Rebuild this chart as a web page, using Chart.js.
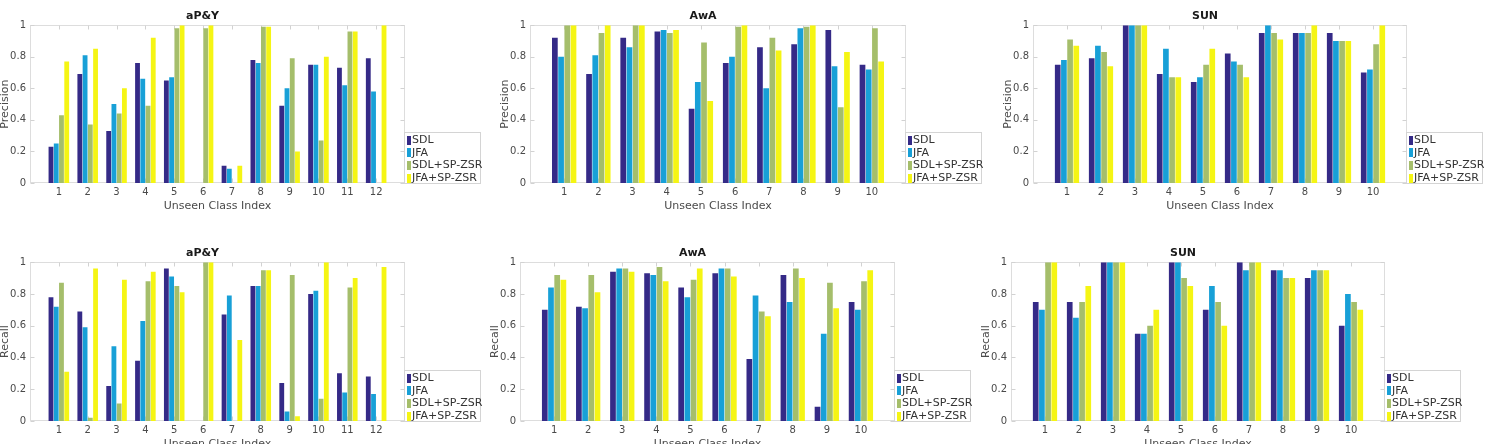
<!DOCTYPE html>
<html><head><meta charset="utf-8">
<script src="https://cdn.jsdelivr.net/npm/chart.js@4.4.1/dist/chart.umd.min.js"></script>
<style>
html,body{margin:0;padding:0;background:#fff;width:1486px;height:444px;overflow:hidden;position:relative;font-family:"DejaVu Sans",sans-serif;}
canvas{position:absolute;}
.lg{position:absolute;border:1px solid #d4d4d4;background:#fff;padding:1px 2px 0 2px;box-sizing:border-box;font-size:11px;color:#333;font-family:"DejaVu Sans",sans-serif;}
.lg .r{height:12.6px;line-height:12.6px;white-space:nowrap;display:flex;align-items:center;}
.lg .s{display:inline-block;width:4px;height:9px;margin-right:1px;flex:none;}
</style></head><body>
<canvas id="c1" width="406" height="222" style="left:0px;top:0px"></canvas>
<canvas id="c2" width="407" height="222" style="left:500px;top:0px"></canvas>
<canvas id="c3" width="405" height="222" style="left:1003px;top:0px"></canvas>
<canvas id="c4" width="406" height="223" style="left:0px;top:237px"></canvas>
<canvas id="c5" width="406" height="223" style="left:490px;top:237px"></canvas>
<canvas id="c6" width="405" height="223" style="left:981px;top:237px"></canvas>
<script>
// ---------- data ----------
const seriesNames = ['SDL', 'JFA', 'SDL+SP-ZSR', 'JFA+SP-ZSR'];
const classes12 = [1, 2, 3, 4, 5, 6, 7, 8, 9, 10, 11, 12];
const classes10 = [1, 2, 3, 4, 5, 6, 7, 8, 9, 10];
const yTickValues = [0, 0.2, 0.4, 0.6, 0.8, 1];
const yTickLabels = ['0', '0.2', '0.4', '0.6', '0.8', '1'];
const xAxisTitle = 'Unseen Class Index';

// aP&Y precision
const apyPrecSDL   = [0.23, 0.69, 0.33, 0.76, 0.65, 0, 0.11, 0.78, 0.49, 0.75, 0.73, 0.79];
const apyPrecJFA   = [0.25, 0.81, 0.50, 0.66, 0.67, 0, 0.09, 0.76, 0.60, 0.75, 0.62, 0.58];
const apyPrecSDLSP = [0.43, 0.37, 0.44, 0.49, 0.98, 0.98, 0, 0.99, 0.79, 0.27, 0.96, 0];
const apyPrecJFASP = [0.77, 0.85, 0.60, 0.92, 1.00, 1.00, 0.11, 0.99, 0.20, 0.80, 0.96, 1.00];
// AwA precision
const awaPrecSDL   = [0.92, 0.69, 0.92, 0.96, 0.47, 0.76, 0.86, 0.88, 0.97, 0.75];
const awaPrecJFA   = [0.80, 0.81, 0.86, 0.97, 0.64, 0.80, 0.60, 0.98, 0.74, 0.72];
const awaPrecSDLSP = [1.00, 0.95, 1.00, 0.95, 0.89, 0.99, 0.92, 0.99, 0.48, 0.98];
const awaPrecJFASP = [1.00, 1.00, 1.00, 0.97, 0.52, 1.00, 0.84, 1.00, 0.83, 0.77];
// SUN precision
const sunPrecSDL   = [0.75, 0.79, 1.00, 0.69, 0.64, 0.82, 0.95, 0.95, 0.95, 0.70];
const sunPrecJFA   = [0.78, 0.87, 1.00, 0.85, 0.67, 0.77, 1.00, 0.95, 0.90, 0.72];
const sunPrecSDLSP = [0.91, 0.83, 1.00, 0.67, 0.75, 0.75, 0.95, 0.95, 0.90, 0.88];
const sunPrecJFASP = [0.87, 0.74, 1.00, 0.67, 0.85, 0.67, 0.91, 1.00, 0.90, 1.00];
// aP&Y recall
const apyRecSDL   = [0.78, 0.69, 0.22, 0.38, 0.96, 0, 0.67, 0.85, 0.24, 0.80, 0.30, 0.28];
const apyRecJFA   = [0.72, 0.59, 0.47, 0.63, 0.91, 0, 0.79, 0.85, 0.06, 0.82, 0.18, 0.17];
const apyRecSDLSP = [0.87, 0.02, 0.11, 0.88, 0.85, 1.00, 0, 0.95, 0.92, 0.14, 0.84, 0];
const apyRecJFASP = [0.31, 0.96, 0.89, 0.94, 0.81, 1.00, 0.51, 0.95, 0.03, 1.00, 0.90, 0.97];
// AwA recall
const awaRecSDL   = [0.70, 0.72, 0.94, 0.93, 0.84, 0.93, 0.39, 0.92, 0.09, 0.75];
const awaRecJFA   = [0.84, 0.71, 0.96, 0.92, 0.78, 0.96, 0.79, 0.75, 0.55, 0.70];
const awaRecSDLSP = [0.92, 0.92, 0.96, 0.97, 0.89, 0.96, 0.69, 0.96, 0.87, 0.88];
const awaRecJFASP = [0.89, 0.81, 0.94, 0.88, 0.96, 0.91, 0.66, 0.90, 0.71, 0.95];
// SUN recall
const sunRecSDL   = [0.75, 0.75, 1.00, 0.55, 1.00, 0.70, 1.00, 0.95, 0.90, 0.60];
const sunRecJFA   = [0.70, 0.65, 1.00, 0.55, 1.00, 0.85, 0.95, 0.95, 0.95, 0.80];
const sunRecSDLSP = [1.00, 0.75, 1.00, 0.60, 0.90, 0.75, 1.00, 0.90, 0.95, 0.75];
const sunRecJFASP = [1.00, 0.85, 1.00, 0.70, 0.85, 0.60, 1.00, 0.90, 0.95, 0.70];

// ---------- styles ----------
const seriesColors = ['#352a87', '#18a0d7', '#a5be6b', '#f5f514'];
const FONT = '"DejaVu Sans", sans-serif';

const matlabBox = {
  id: 'matlabBox',
  beforeDatasetsDraw(chart) {
    const {ctx, chartArea: a, scales: {x, y}} = chart;
    const L = Math.round(a.left) + 0.5, R = Math.round(a.right) - 0.5;
    const T = Math.round(a.top) + 0.5, B = Math.round(a.bottom) - 0.5;
    ctx.save();
    ctx.lineWidth = 1;
    ctx.strokeStyle = '#dddddd';
    ctx.strokeRect(L, T, R - L, B - T);
    ctx.strokeStyle = '#d2d2d2';
    ctx.beginPath();
    x.ticks.forEach(t => {
      const px = Math.round(x.getPixelForValue(t.value)) + 0.5;
      ctx.moveTo(px, B); ctx.lineTo(px, B - 4);
      ctx.moveTo(px, T); ctx.lineTo(px, T + 4);
    });
    y.ticks.forEach(t => {
      const py = Math.round(y.getPixelForValue(t.value)) + 0.5;
      ctx.moveTo(L, py); ctx.lineTo(L + 4, py);
      ctx.moveTo(R, py); ctx.lineTo(R - 4, py);
    });
    ctx.stroke();
    ctx.restore();
  }
};

function makePanel(id, title, yTitle, cats, series) {
  const canvas = document.getElementById(id);
  const datasets = series.map((vals, k) => ({
    label: seriesNames[k],
    data: cats.map((c, i) => ({x: c, y: vals[i]})),
    backgroundColor: seriesColors[k],
    borderWidth: 0,
    categoryPercentage: 0.727,
    barPercentage: 0.92
  }));
  const chart = new Chart(canvas, {
    type: 'bar',
    data: {datasets},
    plugins: [matlabBox],
    options: {
      responsive: false,
      animation: false,
      devicePixelRatio: 1,
      layout: {padding: {right: 1}},
      plugins: {
        legend: {display: false},
        tooltip: {enabled: false},
        title: {
          display: true, text: title, color: '#1a1a1a',
          font: {family: FONT, size: 11, weight: 'bold'},
          padding: {top: 10, bottom: 2}
        }
      },
      scales: {
        x: {
          type: 'linear', min: 0, max: cats.length + 1, offset: false,
          grid: {display: false, drawTicks: false},
          border: {display: false},
          afterBuildTicks: s => { s.ticks = cats.map(v => ({value: v})); },
          ticks: {
            autoSkip: false, maxRotation: 0, padding: 3, color: '#4a4a4a',
            font: {family: FONT, size: 10},
            callback: v => String(v)
          },
          title: {
            display: true, text: xAxisTitle, color: '#4a4a4a',
            font: {family: FONT, size: 11}, padding: {top: 0, bottom: 9.4}
          },
          afterFit: s => { s.height = 39; }
        },
        y: {
          min: 0, max: 1,
          grid: {display: false, drawTicks: false},
          border: {display: false},
          afterBuildTicks: s => { s.ticks = yTickValues.map(v => ({value: v})); },
          ticks: {
            padding: 4, color: '#4a4a4a', font: {family: FONT, size: 10},
            callback: (v) => yTickLabels[yTickValues.indexOf(v)]
          },
          title: {
            display: true, text: yTitle, color: '#4a4a4a',
            font: {family: FONT, size: 11}, padding: {top: -1.5, bottom: 0}
          },
          afterFit: s => { s.width = 30; }
        }
      }
    }
  });
  // HTML legend attached to the right edge of the axes, bottom aligned
  const a = chart.chartArea;
  const cl = parseFloat(canvas.style.left), ct = parseFloat(canvas.style.top);
  const lg = document.createElement('div');
  lg.className = 'lg';
  chart.data.datasets.forEach(ds => {
    const r = document.createElement('div'); r.className = 'r';
    const s = document.createElement('span'); s.className = 's'; s.style.background = ds.backgroundColor;
    const t = document.createElement('span'); t.textContent = ds.label;
    r.appendChild(s); r.appendChild(t); lg.appendChild(r);
  });
  lg.style.left = (cl + Math.round(a.right) - 1) + 'px';
  lg.style.width = '77px';
  lg.style.height = '52px';
  lg.style.top = (ct + Math.round(a.bottom) - 52 + 1) + 'px';
  document.body.appendChild(lg);
}

makePanel('c1', 'aP&Y', 'Precision', classes12, [apyPrecSDL, apyPrecJFA, apyPrecSDLSP, apyPrecJFASP]);
makePanel('c2', 'AwA', 'Precision', classes10, [awaPrecSDL, awaPrecJFA, awaPrecSDLSP, awaPrecJFASP]);
makePanel('c3', 'SUN', 'Precision', classes10, [sunPrecSDL, sunPrecJFA, sunPrecSDLSP, sunPrecJFASP]);
makePanel('c4', 'aP&Y', 'Recall', classes12, [apyRecSDL, apyRecJFA, apyRecSDLSP, apyRecJFASP]);
makePanel('c5', 'AwA', 'Recall', classes10, [awaRecSDL, awaRecJFA, awaRecSDLSP, awaRecJFASP]);
makePanel('c6', 'SUN', 'Recall', classes10, [sunRecSDL, sunRecJFA, sunRecSDLSP, sunRecJFASP]);
</script>
</body></html>
